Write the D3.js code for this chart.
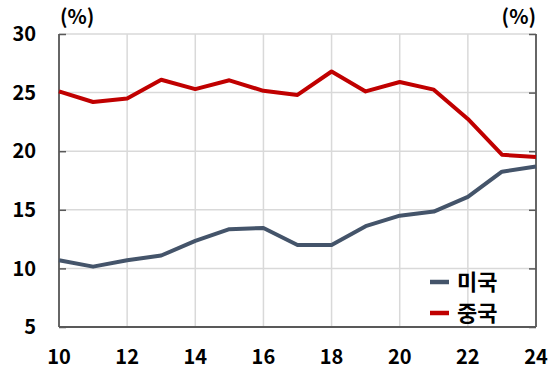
<!DOCTYPE html>
<html><head><meta charset="utf-8">
<script src="https://cdn.jsdelivr.net/npm/d3@7"></script>
<style>body{margin:0;background:#fff}svg{display:block}</style>
</head><body>
<svg id="c" width="549" height="374"></svg>
<script>
const years = [10,11,12,13,14,15,16,17,18,19,20,21,22,23,24];
const usValues = [10.7,10.15,10.7,11.1,12.35,13.35,13.45,12.0,12.0,13.6,14.5,14.85,16.1,18.25,18.7];
const chinaValues = [25.1,24.2,24.5,26.1,25.3,26.05,25.15,24.8,26.8,25.1,25.9,25.25,22.75,19.7,19.5];
const yTicks = [5,10,15,20,25,30];
const xTicks = [10,12,14,16,18,20,22,24];
const seriesNames = ["미국","중국"];
const colors = ["#44546A","#C00000"];

const svg = d3.select("#c");
const font = "'Noto Sans CJK KR','Noto Sans',sans-serif";
const L=59, R=536, T=34, B=327;
const x = d3.scaleLinear().domain([10,24]).range([L,R]);
const y = d3.scaleLinear().domain([5,30]).range([B,T]);

// gridlines
const g = svg.append("g");
g.selectAll(".hg").data(yTicks).join("line")
  .attr("x1",L).attr("x2",R).attr("y1",d=>y(d)).attr("y2",d=>y(d))
  .attr("stroke","#D9D9D9").attr("stroke-width",1.5);
g.selectAll(".vg").data(xTicks).join("line")
  .attr("x1",d=>x(d)).attr("x2",d=>x(d)).attr("y1",T).attr("y2",B)
  .attr("stroke","#D9D9D9").attr("stroke-width",1.5);

// axes
const axCol="#595959";
const leftAx = d3.axisRight(y).tickValues(yTicks).tickSize(7).tickFormat("");
svg.append("g").attr("transform",`translate(${L},0)`).call(leftAx)
  .call(s=>{s.selectAll("line,path").attr("stroke",axCol).attr("stroke-width",1.5);});
const rightAx = d3.axisLeft(y).tickValues(yTicks).tickSize(7).tickFormat("");
svg.append("g").attr("transform",`translate(${R},0)`).call(rightAx)
  .call(s=>{s.selectAll("line,path").attr("stroke",axCol).attr("stroke-width",1.5);});
svg.selectAll(".domain").remove();
svg.append("line").attr("x1",L).attr("x2",L).attr("y1",T).attr("y2",B).attr("stroke",axCol).attr("stroke-width",1.8);
svg.append("line").attr("x1",R).attr("x2",R).attr("y1",T).attr("y2",B).attr("stroke",axCol).attr("stroke-width",1.8);
svg.append("line").attr("x1",L).attr("x2",R).attr("y1",B).attr("y2",B).attr("stroke",axCol).attr("stroke-width",1.8);

// tick labels
svg.selectAll(".yl").data(yTicks).join("text")
  .attr("x",36).attr("y",d=>y(d)).attr("dy","0.36em").attr("text-anchor","end")
  .attr("font-family",font).attr("font-weight","bold").attr("font-size",20).attr("fill","#000")
  .text(d=>d);
svg.selectAll(".xl").data(xTicks).join("text")
  .attr("x",d=>x(d)).attr("y",357).attr("dy","0.36em").attr("text-anchor","middle")
  .attr("font-family",font).attr("font-weight","bold").attr("font-size",20).attr("fill","#000")
  .text(d=>d);
svg.append("text").attr("x",60).attr("y",17).attr("dy","0.36em")
  .attr("font-family",font).attr("font-weight","bold").attr("font-size",20).text("(%)");
svg.append("text").attr("x",536).attr("y",17).attr("dy","0.36em").attr("text-anchor","end")
  .attr("font-family",font).attr("font-weight","bold").attr("font-size",20).text("(%)");

// lines
const line = d3.line().x((d,i)=>x(years[i])).y(d=>y(d));
[usValues,chinaValues].forEach((vals,i)=>{
  svg.append("path").datum(vals).attr("d",line).attr("fill","none")
    .attr("stroke",colors[i]).attr("stroke-width",4).attr("stroke-linejoin","round");
});

// legend
const lg = svg.append("g");
seriesNames.forEach((n,i)=>{
  const ly = 282 + i*31;
  lg.append("line").attr("x1",430).attr("x2",449).attr("y1",ly).attr("y2",ly)
    .attr("stroke",colors[i]).attr("stroke-width",4.5);
  lg.append("text").attr("x",457).attr("y",ly).attr("dy","0.36em")
    .attr("font-family",font).attr("font-weight","bold").attr("font-size",22).attr("fill","#000").text(n);
});
</script>
</body></html>
